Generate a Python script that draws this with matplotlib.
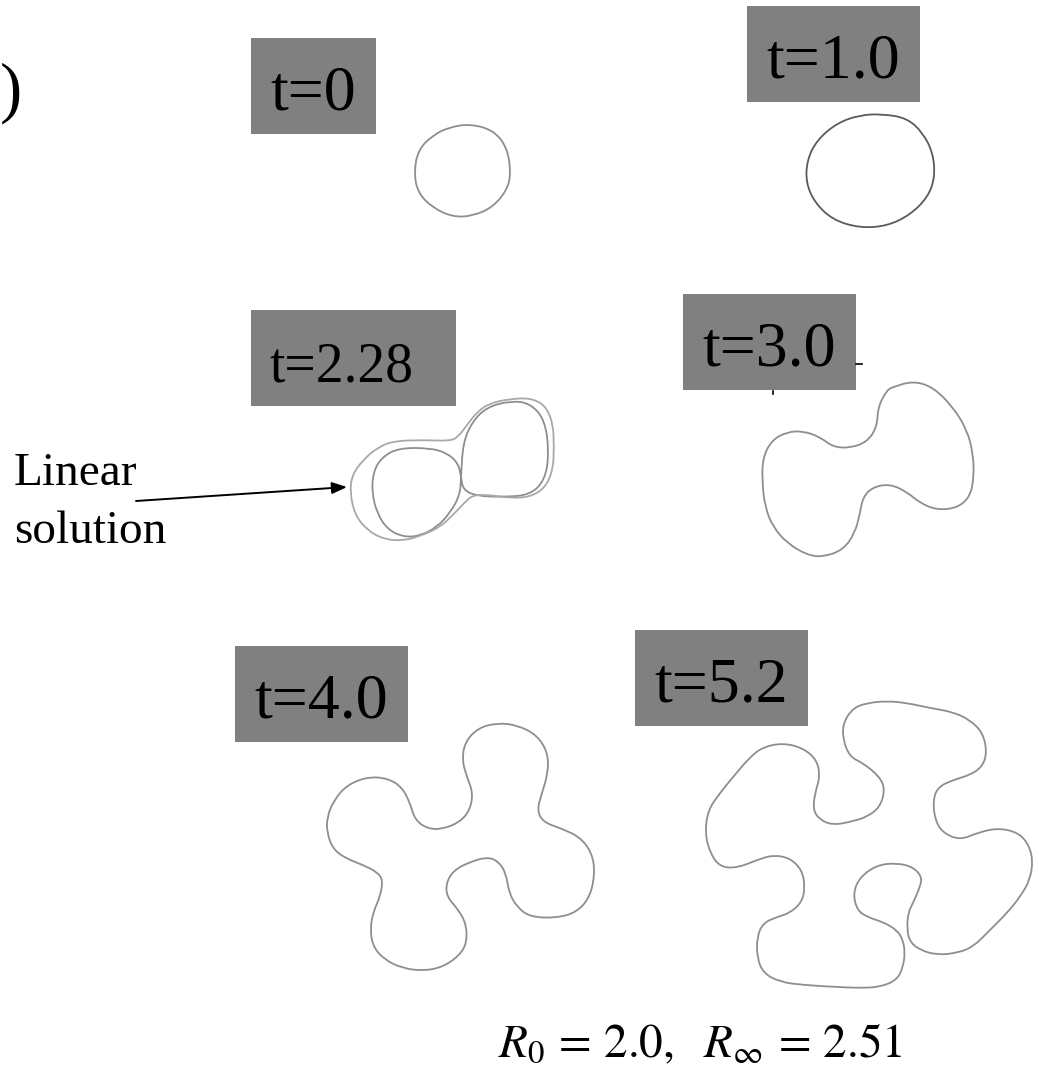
import matplotlib.pyplot as plt
import numpy as np
from matplotlib.path import Path
from matplotlib.patches import PathPatch, Rectangle

plt.rcParams['mathtext.fontset'] = 'stix'
SERIF = 'Liberation Serif'

# Interface outlines at each time, traced in canvas pixels (x right, y down)
outline_t0 = [(470, 124), (493, 130), (507, 147), (511, 173), (507, 190), (493, 207),
              (473, 216), (453, 217), (433, 208), (418, 193), (414, 173), (418, 150),
              (433, 135), (450, 127)]

outline_t1 = [(882, 114), (907, 118), (923, 133), (933, 153), (935, 177), (928, 197),
              (910, 215), (887, 226), (860, 228), (833, 220), (815, 203), (806, 183),
              (807, 160), (817, 140), (837, 123), (860, 115)]

# t=2.28: nonlinear (pinched) and linear solution
outline_t228 = [(398, 448), (430, 448), (447, 453), (458, 463), (461, 476), (463, 490),
                (477, 496), (503, 497), (530, 495), (545, 480), (549, 453), (545, 420),
                (530, 403), (510, 401), (487, 407), (472, 422), (463, 443), (461, 477),
                (460, 495), (450, 513), (437, 527), (420, 536), (403, 537), (387, 529),
                (377, 513), (372, 493), (373, 473), (381, 458)]

outline_t228_linear = [(393, 441), (423, 440), (450, 441), (458, 437), (467, 425), (477, 412),
                       (490, 403), (510, 399), (530, 398), (545, 405), (553, 423), (554, 447),
                       (553, 470), (545, 488), (530, 497), (510, 498), (490, 495), (473, 495),
                       (465, 502), (453, 515), (440, 527), (423, 535), (403, 541), (383, 539),
                       (367, 530), (355, 515), (350, 493), (352, 475), (363, 460), (377, 448)]

outline_t3 = [(893, 387), (913, 381), (933, 387), (953, 407), (967, 430), (973, 453),
              (974, 477), (970, 497), (957, 508), (937, 510), (920, 503), (907, 492),
              (890, 484), (873, 487), (863, 497), (860, 513), (855, 533), (843, 550),
              (823, 557), (807, 555), (787, 543), (773, 527), (765, 507), (762, 480),
              (763, 457), (772, 440), (787, 432), (803, 431), (820, 437), (833, 447),
              (850, 448), (867, 442), (877, 427), (878, 407), (887, 390)]

outline_t4 = [(497, 723), (517, 725), (537, 735), (548, 753), (548, 773), (542, 793),
              (537, 810), (543, 822), (560, 828), (580, 837), (592, 853), (595, 873),
              (590, 897), (577, 912), (557, 918), (530, 917), (517, 907), (509, 893),
              (506, 873), (498, 861), (487, 857), (470, 862), (454, 870), (446, 883),
              (447, 897), (457, 908), (466, 923), (467, 942), (460, 955), (443, 967),
              (423, 971), (402, 968), (385, 960), (373, 947), (370, 928), (374, 910),
              (380, 897), (383, 880), (377, 872), (363, 865), (345, 858), (333, 849),
              (327, 833), (327, 817), (334, 800), (347, 785), (367, 777), (387, 778),
              (402, 787), (410, 803), (415, 820), (428, 829), (443, 829), (460, 822),
              (470, 810), (473, 793), (467, 777), (462, 760), (465, 742), (478, 728)]

outline_t52 = [(867, 703), (887, 701), (907, 703), (930, 708), (953, 712), (970, 720),
               (983, 733), (987, 753), (982, 767), (970, 775), (953, 780), (938, 787),
               (933, 800), (935, 820), (943, 833), (960, 840), (977, 833), (997, 828),
               (1017, 832), (1028, 843), (1033, 860), (1030, 880), (1020, 897), (1007, 913),
               (990, 930), (973, 947), (957, 953), (937, 955), (920, 950), (910, 942),
               (907, 930), (908, 913), (913, 903), (920, 887), (922, 877), (913, 867),
               (897, 863), (877, 865), (860, 877), (853, 893), (857, 910), (867, 917),
               (883, 922), (897, 930), (903, 940), (905, 953), (903, 967), (897, 980),
               (880, 987), (860, 988), (837, 987), (803, 985), (780, 982), (763, 973),
               (757, 957), (757, 937), (763, 923), (777, 917), (790, 913), (802, 902),
               (805, 887), (802, 870), (790, 858), (773, 855), (757, 860), (737, 868),
               (720, 867), (710, 853), (705, 833), (708, 810), (720, 793), (733, 777),
               (750, 757), (763, 747), (783, 743), (803, 748), (817, 760), (820, 777),
               (815, 793), (813, 810), (820, 820), (833, 825), (850, 822), (867, 817),
               (880, 807), (885, 790), (880, 777), (863, 763), (850, 757), (843, 740),
               (843, 723), (853, 708)]

labels = ['t=0', 't=1.0', 't=2.28', 't=3.0', 't=4.0', 't=5.2']
label_boxes = [(251, 38, 376, 134), (747, 6, 920, 102), (251, 310, 456, 406),
               (683, 294, 856, 390), (235, 646, 408, 742), (635, 630, 808, 726)]
label_sizes = [46, 46, 40, 46, 46, 46]

r0_value = 2.0
rinf_value = 2.51


def closed_smooth_path(pts):
    # quadratic B-spline through the traced vertices (midpoint construction)
    p = np.asarray(pts, dtype=float)
    mids = (p + np.roll(p, -1, axis=0)) / 2
    verts = [mids[-1]]
    codes = [Path.MOVETO]
    for i in range(len(p)):
        verts += [p[i], mids[i]]
        codes += [Path.CURVE3, Path.CURVE3]
    return Path(verts, codes)


fig = plt.figure(figsize=(10.39, 10.65), dpi=100)
ax = fig.add_axes([0, 0, 1, 1])
ax.set_xlim(0, 1039)
ax.set_ylim(1065, 0)
ax.axis('off')

# closing bracket of the panel tag at the left edge
ax.text(0, 110, ')', fontsize=48, family=SERIF, ha='left', va='baseline')

# time labels on grey boxes
for text, (x0, y0, x1, y1), fs in zip(labels, label_boxes, label_sizes):
    ax.add_patch(Rectangle((x0, y0), x1 - x0, y1 - y0, facecolor='#808080',
                           edgecolor='none'))
    ax.text(x0 + 19, y0 + 72, text, fontsize=fs, family=SERIF, ha='left',
            va='baseline', color='black')

# stray marks around the t=3.0 box
ax.plot([856, 862], [364, 364], color='black', lw=1.2)
ax.plot([773, 773], [391, 394], color='black', lw=1.2)

curves = [(outline_t0, '#8e8e8e'), (outline_t1, '#5a5a5a'), (outline_t228, '#8e8e8e'),
          (outline_t228_linear, '#a8a8a8'), (outline_t3, '#8e8e8e'),
          (outline_t4, '#8e8e8e'), (outline_t52, '#8e8e8e')]
for pts, col in curves:
    ax.add_patch(PathPatch(closed_smooth_path(pts), facecolor='none', edgecolor=col,
                           lw=1.3))

# annotation for the linear solution
ax.text(14, 485, 'Linear', fontsize=34, family=SERIF, ha='left', va='baseline')
ax.text(14, 543, 'solution', fontsize=34, family=SERIF, ha='left', va='baseline')
ax.annotate('', xy=(347, 487), xytext=(136, 501),
            arrowprops=dict(arrowstyle='-|>,head_length=0.9,head_width=0.35',
                            color='black', lw=1.4, shrinkA=0, shrinkB=0))

ax.text(498, 1057, r'$R_0\,=\,%.1f,\ \ R_\infty\,=\,%.2f$' % (r0_value, rinf_value),
        fontsize=34, ha='left', va='baseline')

fig.savefig('out.png', dpi=100)
